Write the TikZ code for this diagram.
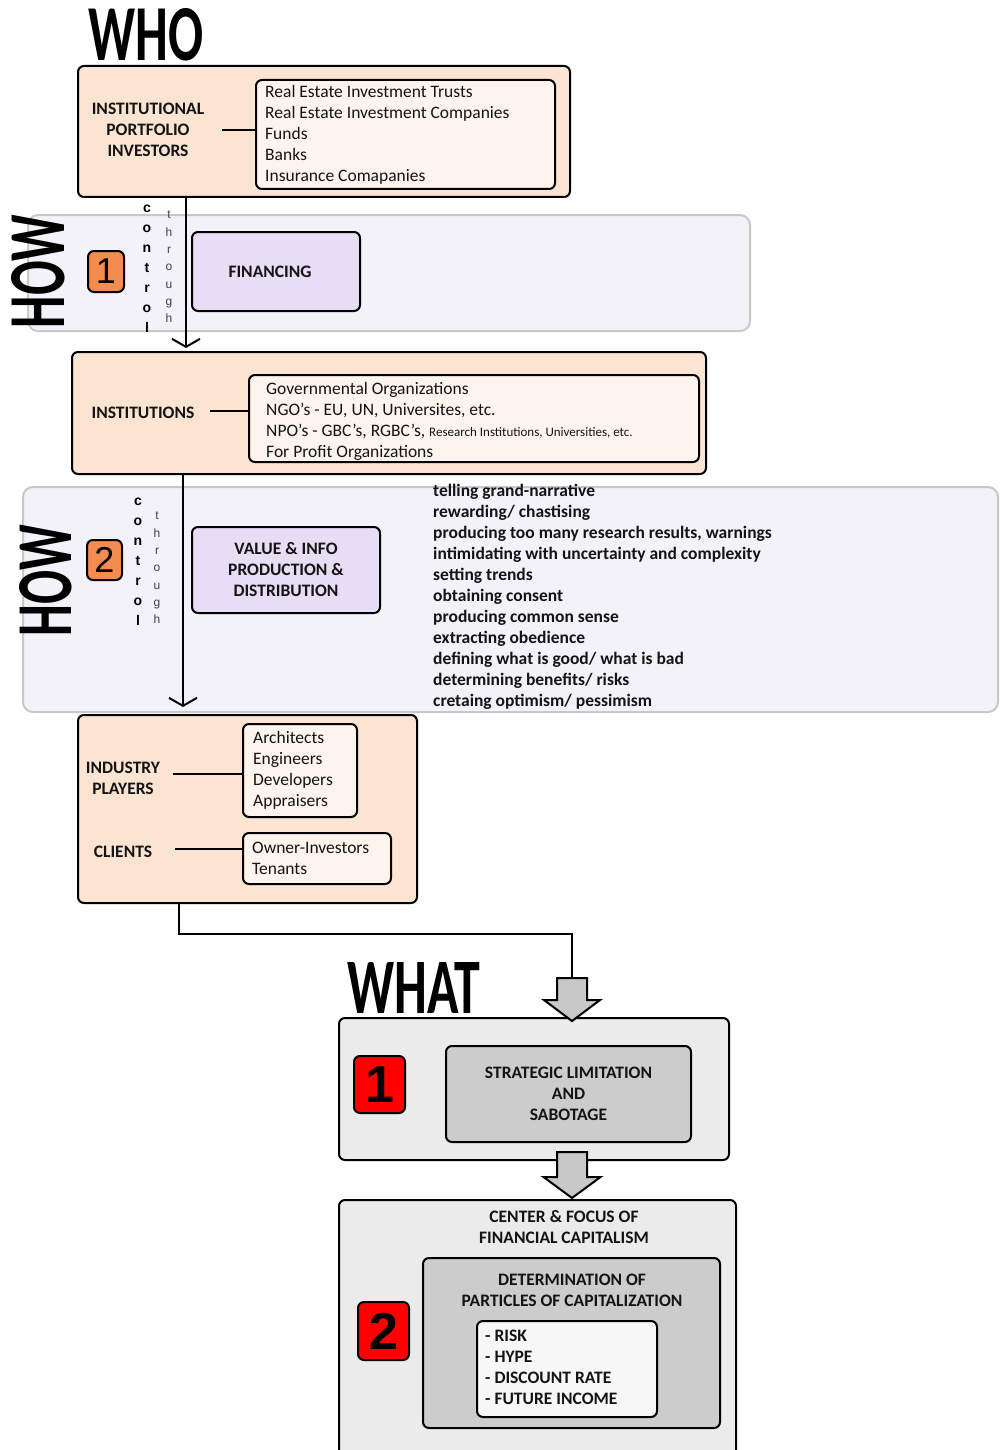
\documentclass[tikz,border=0pt]{standalone}
\usepackage{fontspec}
\setmainfont{Carlito}
\newfontfamily\arialfont{Liberation Sans}
\usetikzlibrary{arrows.meta}
\definecolor{peach}{HTML}{FCE4D2}
\definecolor{peachlight}{HTML}{FEF4EE}
\definecolor{bandfill}{HTML}{F4F2F9}
\definecolor{bandline}{HTML}{C8C8C8}
\definecolor{lavender}{HTML}{E7DDF5}
\definecolor{badgeorange}{HTML}{F38C4F}
\definecolor{panelgray}{HTML}{EBEBEB}
\definecolor{midgray}{HTML}{CCCCCC}
\definecolor{palegray}{HTML}{F7F7F7}
\definecolor{arrowgray}{HTML}{C8C8C8}
\definecolor{textdark}{HTML}{141414}
\newcommand\titleword[3]{\resizebox{#2pt}{#3pt}{\bfseries #1}}
\begin{document}
\begin{tikzpicture}[x=1pt,y=-1pt,
  box/.style={draw=black, line width=2pt, rounded corners=6pt, inner sep=0pt},
  band/.style={draw=bandline, fill=bandfill, line width=2pt, rounded corners=10pt, inner sep=0pt},
  label/.style={font=\fontsize{17.5}{21}\selectfont\bfseries, align=center, inner sep=0pt, text=textdark},
  list/.style={font=\fontsize{17.5}{21}\selectfont, align=left, inner sep=0pt, anchor=north west, text=textdark},
  boldlist/.style={list, font=\fontsize{17.5}{21}\selectfont\bfseries},
  conn/.style={line width=2pt},
  flow/.style={line width=2pt, -{Straight Barb[length=8pt,width=28pt,line width=2pt]}},
  barrow/.style={draw=black, fill=arrowgray, line width=2pt, line join=miter},
  badge/.style={box, fill=badgeorange, font=\arialfont\fontsize{36}{36}\selectfont},
  redbadge/.style={box, fill=red, font=\arialfont\bfseries\fontsize{52}{52}\selectfont},
  stackbold/.style={font=\arialfont\bfseries\fontsize{14}{20}\selectfont, align=center, inner sep=0pt},
  stackthin/.style={font=\arialfont\fontsize{12}{17.3}\selectfont, align=center, inner sep=0pt, text=black!75},
  title/.style={inner sep=0pt, text=black}]

\fill[white] (0,0) rectangle (999,1450);
\useasboundingbox (0,0) rectangle (999,1450);

% ---- HOW bands ----
\node[band, minimum width=722pt, minimum height=116pt] (band1) at (389,273) {};
\node[band, minimum width=975pt, minimum height=225pt] (band2) at (510.5,599.5) {};

% ---- titles ----
\node[title, anchor=north west] (who) at (88,8) {\titleword{WHO}{115}{52}};
\node[title, rotate=90] (how1) at (38.5,271.5) {\titleword{HOW}{113}{53}};
\node[title, rotate=90] (how2) at (46,580.5) {\titleword{HOW}{111}{52}};
\node[title, anchor=north west] (what) at (347,962) {\titleword{WHAT}{133}{51}};

% ---- WHO: institutional portfolio investors ----
\node[box, fill=peach, minimum width=492pt, minimum height=131pt] (ipibox) at (324,131.5) {};
\node[box, fill=peachlight, minimum width=299pt, minimum height=109pt] (ipilist) at (405.5,134.5) {};
\node[label] (ipi) at (148,130) {INSTITUTIONAL\\PORTFOLIO\\INVESTORS};
\node[list] (ipitext) at (265,85.5) {Real Estate Investment Trusts\\Real Estate Investment Companies\\Funds\\Banks\\Insurance Comapanies};
\draw[conn] ([xshift=17.5pt]ipi.east) -- (ipi.east -| ipilist.west);

% ---- HOW 1 ----
\node[badge, minimum width=36pt, minimum height=41pt] (b1) at (106,271.5) {1};
\node[stackbold] (ctl1) at (147,269) {c\\o\\n\\t\\r\\o\\l};
\node[stackthin] (thr1) at (169,267) {t\\h\\r\\o\\u\\g\\h};
\node[box, fill=lavender, minimum width=168pt, minimum height=79pt, label, font=\fontsize{17.5}{21}\selectfont\bfseries] (fin) at (276,271.5) {\hspace*{-12pt}FINANCING};

% ---- institutions ----
\node[box, fill=peach, minimum width=634pt, minimum height=122pt] (instbox) at (389,413) {};
\node[box, fill=peachlight, minimum width=450pt, minimum height=87pt] (instlist) at (474,418.5) {};
\node[label] (inst) at (143,413) {INSTITUTIONS};
\node[list] (insttext) at (266,382.5) {Governmental Organizations\\NGO’s - EU, UN, Universites, etc.\\NPO’s - GBC’s, RGBC’s, {\fontsize{13}{21}\selectfont Research Institutions, Universities, etc.}\\For Profit Organizations};
\draw[conn] ([xshift=15.5pt,yshift=2pt]inst.east) -- ([yshift=2pt]inst.east -| instlist.west);

% ---- HOW 2 ----
\node[badge, minimum width=35pt, minimum height=40pt] (b2) at (104.5,560) {2};
\node[stackbold] (ctl2) at (138,562) {c\\o\\n\\t\\r\\o\\l};
\node[stackthin] (thr2) at (157,568) {t\\h\\r\\o\\u\\g\\h};
\node[box, fill=lavender, minimum width=188pt, minimum height=86pt, label, font=\fontsize{17.5}{21}\selectfont\bfseries] (val) at (286,570) {VALUE \& INFO\\PRODUCTION \&\\DISTRIBUTION};
\node[boldlist] (means) at (433,484) {telling grand-narrative\\rewarding/ chastising\\producing too many research results, warnings\\intimidating with uncertainty and complexity\\setting trends\\obtaining consent\\producing common sense\\extracting obedience\\defining what is good/ what is bad\\determining benefits/ risks\\cretaing optimism/ pessimism};

% ---- industry players and clients ----
\node[box, fill=peach, minimum width=339pt, minimum height=188pt] (indbox) at (247.5,809) {};
\node[box, fill=peachlight, minimum width=114pt, minimum height=93pt] (indlist) at (300,770.5) {};
\node[box, fill=peachlight, minimum width=148pt, minimum height=51pt] (clilist) at (317,858.5) {};
\node[label] (ind) at (123,778) {INDUSTRY\\PLAYERS};
\node[label] (cli) at (123,852) {CLIENTS};
\node[list] (indtext) at (253,731) {Architects\\Engineers\\Developers\\Appraisers};
\node[list] (clitext) at (252,842) {Owner-Investors\\Tenants};
\draw[conn] ([xshift=12.5pt,yshift=4pt]ind.east) -- ([yshift=4pt]ind.east -| indlist.west);
\draw[conn] ([xshift=22.5pt,yshift=3pt]cli.east) -- ([yshift=3pt]cli.east -| clilist.west);

% ---- WHAT 1 ----
\node[box, fill=panelgray, minimum width=390pt, minimum height=142pt] (w1) at (534,1089) {};
\node[redbadge, minimum width=51pt, minimum height=57pt] (r1) at (379.5,1084.5) {1};
\node[box, fill=midgray, minimum width=245pt, minimum height=96pt, label, font=\fontsize{17.5}{21}\selectfont\bfseries] (strat) at (568.5,1094) {STRATEGIC LIMITATION\\AND\\SABOTAGE};

% ---- WHAT 2 ----
\node[box, fill=panelgray, minimum width=397pt, minimum height=265pt] (w2) at (537.5,1332.5) {};
\node[label] (center) at (564,1227.5) {CENTER \& FOCUS OF\\FINANCIAL CAPITALISM};
\node[box, fill=midgray, minimum width=297pt, minimum height=170pt] (det) at (571.5,1343) {};
\node[label] (dettext) at (572,1290.5) {DETERMINATION OF\\PARTICLES OF CAPITALIZATION};
\node[box, fill=palegray, minimum width=180pt, minimum height=96pt] (parts) at (567,1369) {};
\node[boldlist] (partstext) at (485,1329.5) {- RISK\\- HYPE\\- DISCOUNT RATE\\- FUTURE INCOME};
\node[redbadge, minimum width=51pt, minimum height=58pt] (r2) at (383.5,1331) {2};

% ---- control flow ----
\coordinate (c1) at (186,0);
\coordinate (c2) at (183,0);
\coordinate (c3) at (179,0);
\draw[flow, shorten >=3pt] (ipibox.south -| c1) -- (instbox.north -| c1);
\draw[flow, shorten >=7pt] (instbox.south -| c2) -- (indbox.north -| c2);

% block arrows into the WHAT panels
\coordinate (ba1) at (572,978);
\coordinate (ba2) at (572,1152);
\draw[barrow] (ba1) ++(-15,0) -- ++(30,0) -- ++(0,22) -- ++(13,0) -- ++(-28,21) -- ++(-28,-21) -- ++(13,0) -- cycle;
\draw[barrow] (ba2) ++(-15,0) -- ++(30,0) -- ++(0,25) -- ++(13.5,0) -- ++(-28.5,21) -- ++(-28.5,-21) -- ++(13.5,0) -- cycle;
\draw[conn] (indbox.south -| c3) -- ++(0,30) -| (ba1);
\end{tikzpicture}
\end{document}
